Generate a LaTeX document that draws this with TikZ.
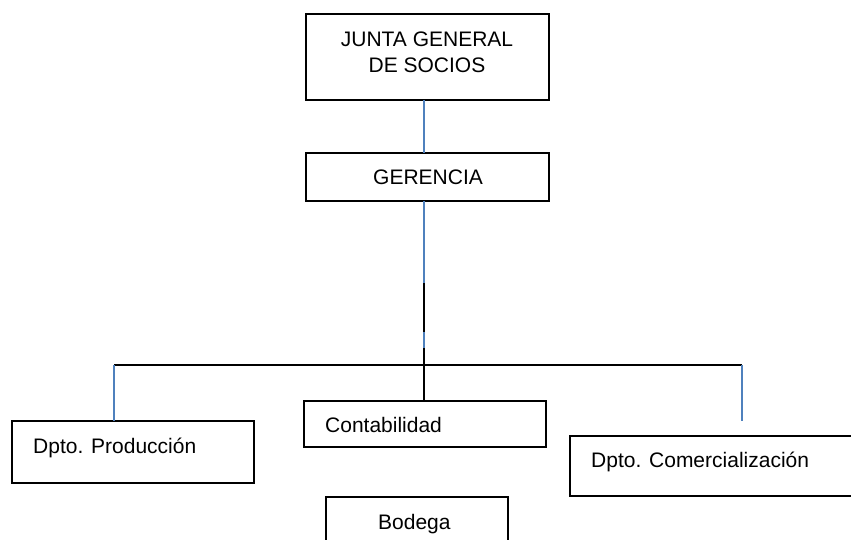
\documentclass[tikz,border=0pt]{standalone}
\usepackage{fontspec}
\setmainfont{Liberation Sans}
\usepackage{xcolor}
\definecolor{azul}{RGB}{79,129,189}

\begin{document}
\begin{tikzpicture}[x=1pt, y=-1pt,
    box/.style = {draw, line width=1.8pt, anchor=north west, inner sep=0pt, outer sep=0pt},
    txt/.style = {anchor=base, inner sep=0pt, font=\fontsize{21}{26}\selectfont},
    azulline/.style = {draw=azul, line width=1.5pt},
    negra/.style = {draw=black, line width=2pt}]
        \useasboundingbox (0,0) rectangle (851,540);
        \clip (0,0) rectangle (851,540);

        % cajas
        \node[box, minimum width=243pt, minimum height=86pt] (JG) at (306,14) {};
        \node[box, minimum width=243pt, minimum height=48pt] (G) at (306,153) {};
        \node[box, minimum width=242pt, minimum height=62pt] (P) at (12,421) {};
        \node[box, minimum width=242pt, minimum height=46pt] (C) at (304,401) {};
        \node[box, minimum width=300pt, minimum height=60pt] (M) at (570,436) {};
        \node[box, minimum width=182pt, minimum height=60pt] (B) at (326,497) {};

        % textos
        \node[txt] (JG1) at (427,47) {JUNTA GENERAL};
        \node[txt] (JG2) at (427,73) {DE SOCIOS};
        \node[txt] (G1) at (428,185) {GERENCIA};
        \node[txt, anchor=base west] (P1) at (33,453) {Dpto. Producción};
        \node[txt, anchor=base west] (C1) at (325,432) {Contabilidad};
        \node[txt, anchor=base west] (M1) at (591,467) {Dpto. Comercialización};
        \node[txt, anchor=base west] (B1) at (378,529) {Bodega};

        % puntos de union
        \coordinate (c1) at (424,283);
        \coordinate (c2) at (424,332);
        \coordinate (c3) at (424,348);
        \coordinate (hub) at (424,365);
        \coordinate (hL) at (114,365);
        \coordinate (hR) at (742,365);
        \coordinate (mR) at (742,421);

        \draw[azulline] (JG.south -| c1) -- (G.north -| c1);
        \draw[azulline] (G.south -| c1) -- (c1);
        \draw[negra] (c1) -- (c2);
        \draw[azulline] (c2) -- (c3);
        \draw[negra] (c3) -- (C.north -| c3);
        \draw[negra] (hL) -- (hR);
        \draw[azulline] (hL) -- (hL |- P.north);
        \draw[azulline] (hR) -- (mR);
    \end{tikzpicture}
\end{document}
